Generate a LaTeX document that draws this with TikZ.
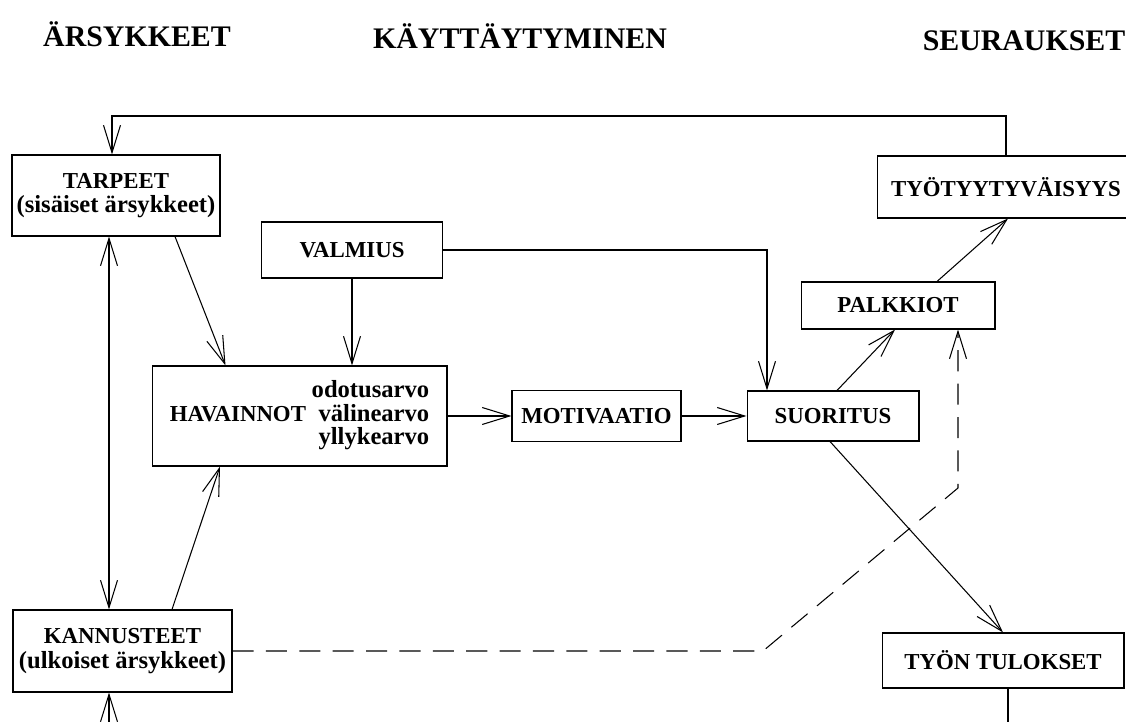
\documentclass[tikz,border=0pt]{standalone}
\usepackage{fontspec}
\setmainfont{Liberation Serif}
\usepackage{tikz}
\usetikzlibrary{positioning, arrows.meta, calc}

% lower-case lines are set a little larger than the capitals
\newcommand{\lc}{\fontsize{14}{14.6}\selectfont}

\begin{document}
\begin{tikzpicture}[
    x=0.02cm, y=-0.02cm,
    node distance=1.28cm,
    stage/.style={rectangle, draw, line width=0.6pt, align=center, inner sep=1pt, font=\bfseries\fontsize{13}{14}\selectfont},
    hdr/.style={anchor=base, font=\bfseries\fontsize{17}{20}\selectfont},
    flow/.style={->, >={Straight Barb[length=5.5mm, width=3.4mm]}, line width=0.6pt},
    feed/.style={flow, dash pattern=on 12pt off 7pt}
]
    \useasboundingbox (0,0) rectangle (1126,722);

    % column headings
    \node[hdr] (h1) at (137,47) {ÄRSYKKEET};
    \node[hdr] (h2) at (520,49) {KÄYTTÄYTYMINEN};
    \node[hdr] (h3) at (1024,51) {SEURAUKSET};

    % stimuli
    \node[stage, minimum width=4.16cm, minimum height=1.62cm] (tarpeet) at (116,195.5) {TARPEET\\\lc(sisäiset ärsykkeet)};
    \node[stage, minimum width=4.38cm, minimum height=1.64cm] (kannusteet) at (122.5,651) {KANNUSTEET\\\lc(ulkoiset ärsykkeet)};

    % behaviour
    \node[stage, minimum width=3.62cm, minimum height=1.12cm] (valmius) at (352,250) {VALMIUS};
    \node[stage, minimum width=5.9cm, minimum height=2cm] (havainnot) at (299.5,416) {%
        \renewcommand{\arraystretch}{0.9}%
        \begin{tabular}{@{}l@{\ }r@{}}
            & \lc odotusarvo\\
            HAVAINNOT & \lc välinearvo\\
            & \lc yllykearvo
        \end{tabular}};
    \node[stage, minimum width=3.38cm, minimum height=1.02cm, right=of havainnot] (motivaatio) {MOTIVAATIO};
    \node[stage, minimum width=3.44cm, minimum height=1cm, right=1.3cm of motivaatio] (suoritus) {SUORITUS};

    % consequences
    \node[stage, minimum width=3.88cm, minimum height=0.94cm] (palkkiot) at (898,305.5) {PALKKIOT};
    \node[stage, minimum width=5.14cm, minimum height=1.24cm] (tyyty) at (1006,187) {TYÖTYYTYVÄISYYS};
    \node[stage, minimum width=4.84cm, minimum height=1.1cm] (tulokset) at (1003,660.5) {TYÖN TULOKSET};

    % helper points
    \coordinate (fb) at (112,116);
    \coordinate (lx) at (109,0);
    \coordinate (bend) at (763,651);
    \coordinate (up) at (958,488);
    \coordinate (inlow) at (109,735);
    \coordinate (outlow) at (1008,735);

    % arrows
    \draw[flow] (tyyty.north) -- (tyyty.north |- fb) -- (fb) -- (fb |- tarpeet.north);
    \draw[flow, <->] (tarpeet.south -| lx) -- (kannusteet.north -| lx);
    \draw[flow] (inlow) -- (kannusteet.south -| inlow);
    \draw[flow] ($(tarpeet.south)+(59,0)$) -- ($(havainnot.north)+(-74,0)$);
    \draw[flow] ($(kannusteet.north)+(49.5,0)$) -- ($(havainnot.south)+(-79.5,0)$);
    \draw[flow] (valmius.south) -- (valmius.south |- havainnot.north);
    \draw[flow] (valmius.east) -| ($(suoritus.north)+(-66,0)$);
    \draw[flow] (havainnot.east) -- (motivaatio.west);
    \draw[flow] (motivaatio.east) -- (motivaatio.east -| suoritus.west);
    \draw[flow] ($(suoritus.north)+(4,0)$) -- ($(palkkiot.south)+(-3,0)$);
    \draw[flow] ($(palkkiot.north)+(39,0)$) -- ($(tyyty.south)+(2,0)$);
    \draw[flow] ($(suoritus.south)+(-3,0)$) -- (tulokset.north);
    \draw[feed] (kannusteet.east) -- (bend) -- (up) -- (up |- palkkiot.south);
    \draw[line width=0.6pt] (tulokset.south -| outlow) -- (outlow);
\end{tikzpicture}
\end{document}
